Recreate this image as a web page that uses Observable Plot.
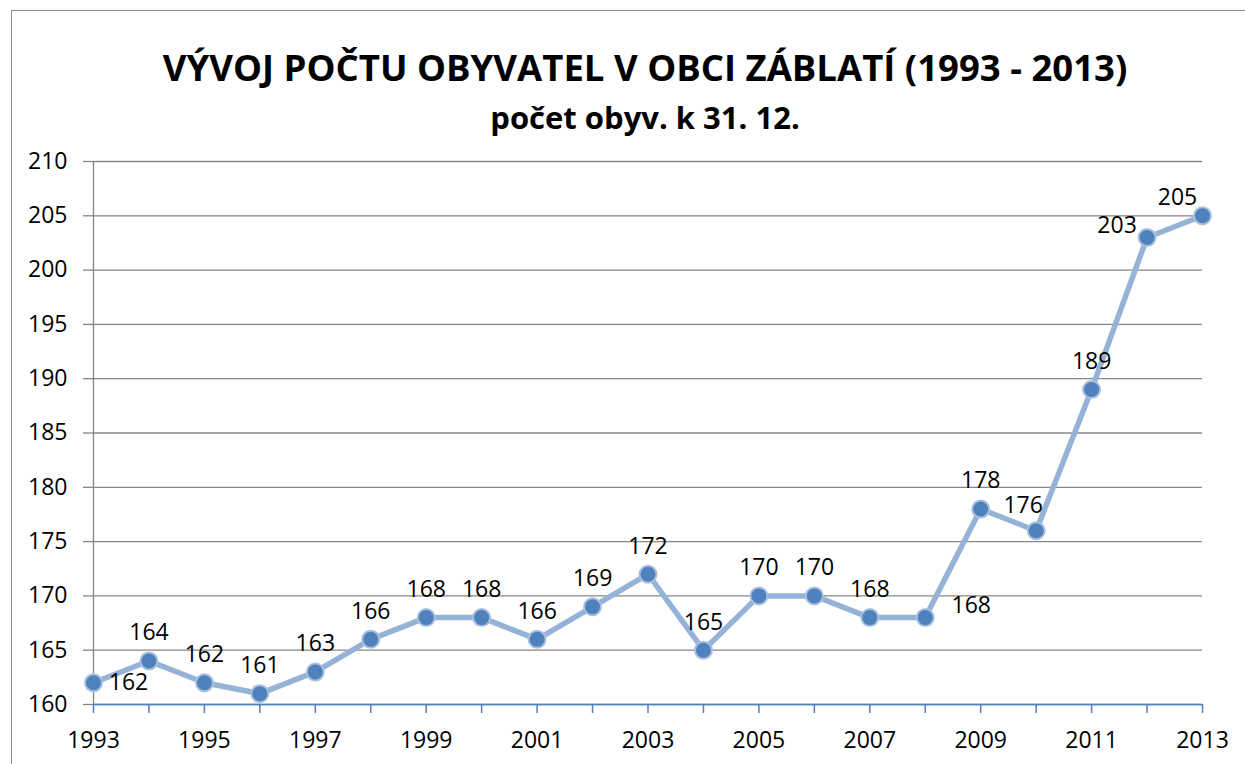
<!DOCTYPE html>
<html><head><meta charset="utf-8">
<script src="https://cdn.jsdelivr.net/npm/d3@7"></script>
<script src="https://cdn.jsdelivr.net/npm/@observablehq/plot@0.6"></script>
<style>
body{margin:0;background:#fff;}
#wrap{position:relative;width:1245px;height:764px;overflow:hidden;font-family:"Open Sans",sans-serif;background:#fff;}
#frame{position:absolute;left:11px;top:10px;width:1300px;height:800px;border:1.5px solid #8c8c8c;box-sizing:border-box;}
.t{position:absolute;left:0;width:1290px;text-align:center;font-weight:bold;color:#000;white-space:nowrap;}
#title{top:49px;font-size:36.5px;line-height:36px;}
#subtitle{top:102px;font-size:31px;line-height:31px;}
#chart{position:absolute;left:0;top:0;}
</style>
</head><body>
<div id="wrap">
  <div id="frame"></div>
  <div id="title" class="t">VÝVOJ POČTU OBYVATEL V OBCI ZÁBLATÍ (1993 - 2013)</div>
  <div id="subtitle" class="t">počet obyv. k 31. 12.</div>
  <div id="chart"></div>
</div>
<script>
const years = [1993,1994,1995,1996,1997,1998,1999,2000,2001,2002,2003,2004,2005,2006,2007,2008,2009,2010,2011,2012,2013];
const population = [162,164,162,161,163,166,168,168,166,169,172,165,170,170,168,168,178,176,189,203,205];
const labelPlacement = ["right","above","above","above","above","above","above","above","above","above","above","above","above","above","above","right2","above","aboveLeft","above","left","aboveLeft2"];
const xTickLabels = [1993,1995,1997,1999,2001,2003,2005,2007,2009,2011,2013];
const yTicks = [160,165,170,175,180,185,190,195,200,205,210];

const data = years.map((year, i) => ({year, pop: population[i], place: labelPlacement[i]}));

const offsets = {
  above: {dx: 0, dy: -28},
  right: {dx: 35, dy: 0},
  right2: {dx: 46, dy: -12},
  aboveLeft: {dx: -13, dy: -25},
  left: {dx: -30, dy: -12},
  aboveLeft2: {dx: -25, dy: -18}
};

const gridColor = "#868686";
const axisBlue = "#4f81bd";
const fs = 23;

const labelMarks = Object.entries(offsets).map(([k, o]) =>
  Plot.text(data.filter(d => d.place === k), {
    x: "year", y: "pop", text: d => String(d.pop),
    dx: o.dx, dy: o.dy, fontSize: fs, fill: "#000"
  })
);

const chart = Plot.plot({
  width: 1245,
  height: 764,
  marginLeft: 93,
  marginRight: 43,
  marginTop: 161,
  marginBottom: 60,
  style: {fontFamily: "Open Sans, sans-serif", background: "transparent", color: "#000"},
  x: {domain: [1993, 2013]},
  y: {domain: [160, 210]},
  marks: [
    Plot.gridY({ticks: yTicks, stroke: gridColor, strokeOpacity: 1, strokeWidth: 1.3}),
    Plot.ruleX([1993], {stroke: gridColor, strokeWidth: 1.3}),
    Plot.axisY({ticks: yTicks, tickSize: 10, tickPadding: 16, stroke: gridColor, strokeWidth: 1.3, fontSize: fs, fill: "#000", label: null, tickFormat: d => String(d)}),
    Plot.ruleY([160], {stroke: axisBlue, strokeWidth: 1.5}),
    Plot.axisX({ticks: years, tickSize: 9, stroke: axisBlue, strokeWidth: 1.5, label: null, tickFormat: () => ""}),
    Plot.axisX({ticks: xTickLabels, tickSize: 0, tickPadding: 27, fontSize: fs, fill: "#000", label: null, tickFormat: d => String(d)}),
    Plot.line(data, {x: "year", y: "pop", stroke: "#95b3d7", strokeWidth: 5.5}),
    Plot.dot(data, {x: "year", y: "pop", r: 8.5, fill: "#4f81bd", stroke: "#a7c0de", strokeWidth: 2}),
    ...labelMarks
  ]
});
document.getElementById("chart").appendChild(chart);
</script>
</body></html>
